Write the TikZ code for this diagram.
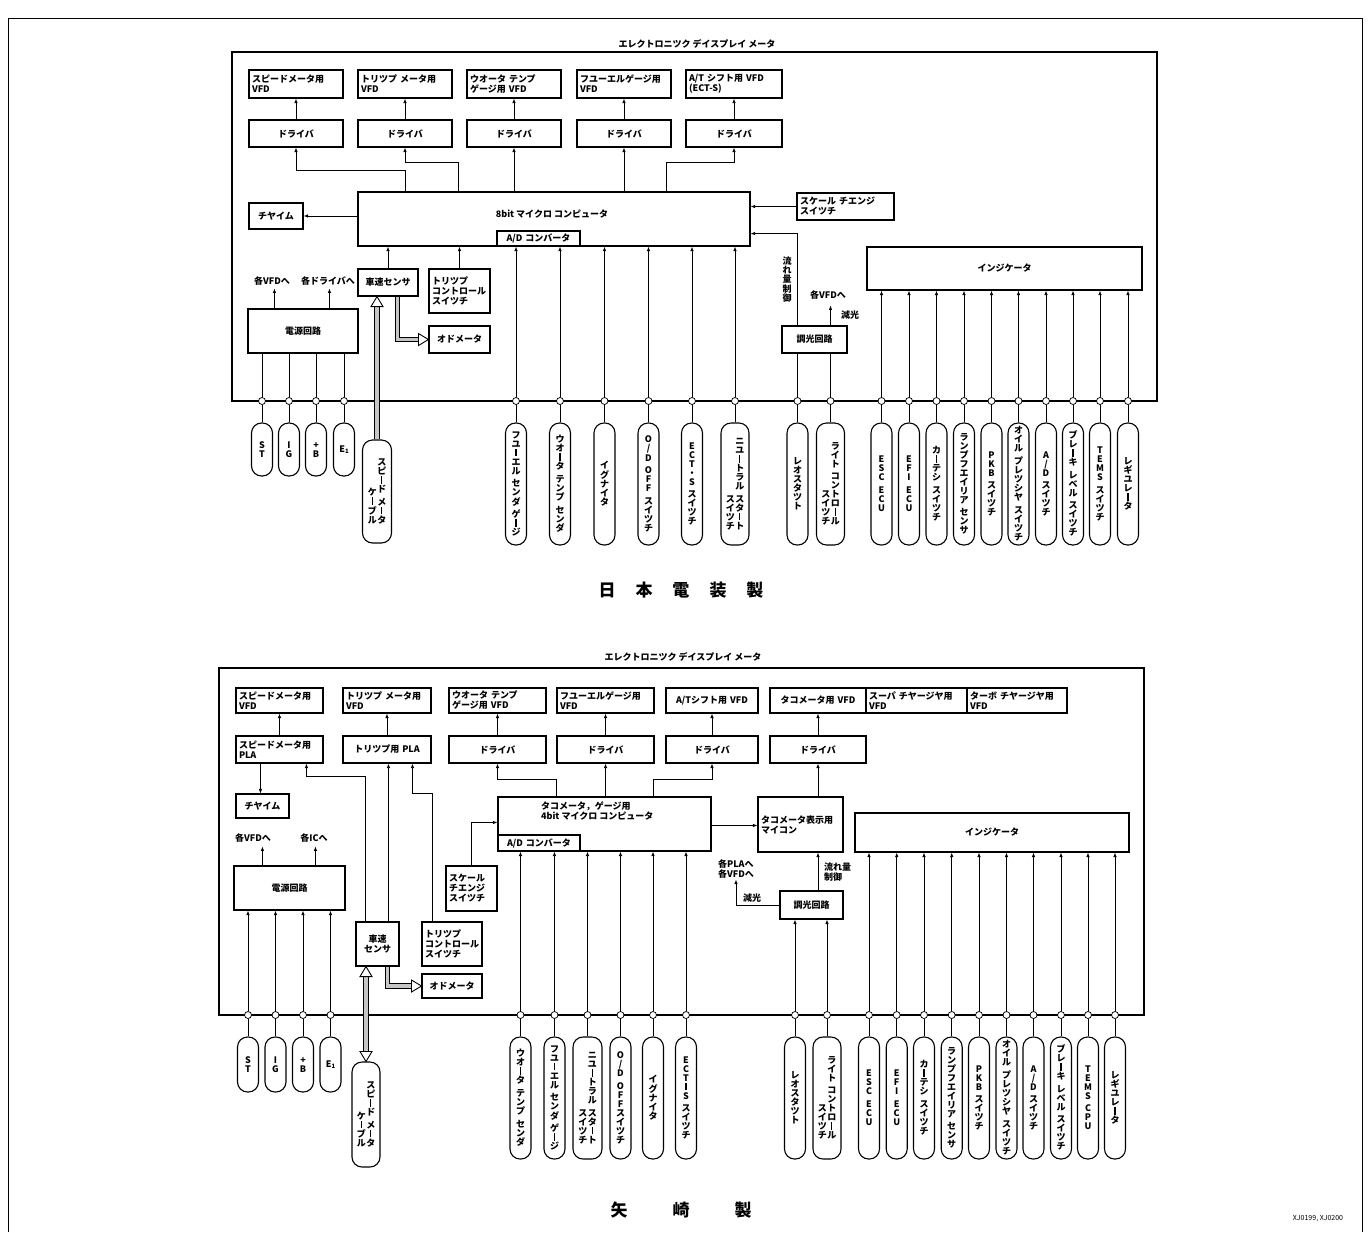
\documentclass[tikz,border=0pt]{standalone}
\usepackage{fontspec}
\setmainfont{Noto Sans CJK JP}
\usetikzlibrary{arrows.meta,calc}
\newcommand\fs{\fontsize{9}{10}\selectfont\bfseries}
\makeatletter
\def\vt@bar{ー}
\def\vt@gap{*}
\newcommand\vstack[1]{\vbox{\offinterlineskip\@tfor\vt@c:=#1\do{\vt@one}}}
\def\vt@one{%
  \ifx\vt@c\vt@gap\vskip3.5pt\relax
  \else\ifx\vt@c\vt@bar
    \hbox to 9.5pt{\hss\vrule width 1.2pt height 7.4pt depth .1pt\hss}\vskip1.5pt\relax
  \else
    \hbox to 9.5pt{\hss\vrule width 0pt height 7.5pt depth 1.5pt\vt@c\hss}%
  \fi\fi}
\makeatother
\newcommand\bx[7][]{%
  \pgfmathsetmacro\bxw{#5-#3}\pgfmathsetmacro\bxh{#6-#4}\pgfmathsetmacro\bxt{#5-#3-6}%
  \node[box,minimum width=\bxw pt,minimum height=\bxh pt,text width=\bxt pt,#1] (#2) at ({(#3+#5)/2},{(#4+#6)/2}) {#7};}
\newcommand\pl[5]{\node[pill,minimum width=#3pt,minimum height=#4pt] (#1) at (#2) {#5};}
\newcommand\hh[2]{\draw[hhead,shift={(#1)},rotate=#2] (0,0) -- (-10,6) -- (-10,-6) -- cycle;}
\newcommand\esub{E{\fontsize{6}{6}\selectfont\raisebox{-1.5pt}{1}}}
\begin{document}
\begin{tikzpicture}[x=1pt,y=-1pt,
  box/.style={draw,line width=1.1pt,inner sep=3pt,font=\fs,align=left},
  pill/.style={draw,line width=1.1pt,rounded corners=10pt,inner sep=1pt,font=\fs},
  wire/.style={line width=.75pt},
  arr/.style={wire,-{Latex[length=4.5pt,width=3.5pt]}},
  frm/.style={line width=1.3pt},
  dot/.style={circle,draw,fill=white,line width=.75pt,inner sep=0pt,minimum size=7pt},
  lab/.style={font=\fs,inner sep=0pt,align=left},
  hshaft/.style={line width=.9pt,double=gray!45,double distance=3.5pt,line join=miter},
  hhead/.style={draw,fill=white,line width=.9pt,line join=miter}]
\useasboundingbox (0,0) rectangle (1370,1232);
\draw[line width=.6pt] (8,1232) -- (8,18) -- (1362,18) -- (1362,1232);

%================ TOP =================
\node[font=\fs] (ttl) at (697,44) {エレクトロニツク\ デイスプレイ\ メータ};
\draw[frm] (232,401) -- (232,52) -- (1157,52) -- (1157,401) -- cycle;
\bx{tv1}{249}{70}{343}{98}{スピードメータ用\\VFD}
\bx{tv2}{358}{70}{452}{98}{トリツプ メータ用\\VFD}
\bx{tv3}{467}{70}{561}{98}{ウオータ テンプ\\ゲージ用 VFD}
\bx{tv4}{577}{70}{671}{98}{フユーエルゲージ用\\VFD}
\bx{tv5}{686}{70}{782}{98}{A/T シフト用 VFD\\(ECT-S)}
\foreach \i/\a/\b in {1/249/343,2/358/452,3/467/561,4/577/671,5/686/782}
  {\bx[align=center]{td\i}{\a}{120}{\b}{147}{ドライバ}}
\bx{tm}{358}{192}{750}{246}{}
\node[lab] (tml) at (552,214) {8bit マイクロ コンピュータ};
\bx[align=center,inner sep=1pt]{tad}{497}{231}{580}{246}{A/D コンバータ}
\bx[align=center]{tc}{249}{203}{303}{229}{チヤイム}
\bx{tsc}{797}{193}{894}{220}{スケール チエンジ\\スイツチ}
\bx[align=center]{tsp}{358}{269}{418}{296}{車速センサ}
\bx{ttr}{429}{269}{490}{313}{トリツプ\\コントロール\\スイツチ}
\bx[align=center]{tpw}{248}{309}{358}{353}{電源回路}
\bx[align=center]{tod}{429}{326}{490}{353}{オドメータ}
\bx[align=center]{tdim}{782}{326}{847}{353}{調光回路}
\bx[align=center]{ti}{867}{247}{1142}{290}{インジケータ}
\node[lab] (tl1) at (272,281) {各VFDへ};
\node[lab] (tl2) at (328,281) {各ドライバへ};
\node[lab] (tl3) at (828,295) {各VFDへ};
\node[lab] (tl4) at (850,315) {減光};
\node[lab] (tl5) at (787,280) {\vstack{流れ量制御}};
\foreach \x [count=\i] in {262,289,316,344,516,560,604.5,648.5,692,735,797.5,830.5,881.5,909,936.5,964,991.5,1018.5,1046,1073,1100,1128}
  \node[dot] (t\i) at (\x,401) {};
% pills
\pl{tp1}{$(t1)+(0,48.5)$}{21}{53}{\vstack{ST}}
\pl{tp2}{$(t2)+(0,48.5)$}{21}{53}{\vstack{IG}}
\pl{tp3}{$(t3)+(0,48.5)$}{21}{53}{\vstack{+B}}
\pl{tp4}{$(t4)+(0,48.5)$}{21}{53}{\esub}
\pl{tp5}{$(t5)+(0,83)$}{21}{122}{\vstack{フユーエル*センダ*ゲージ}}
\pl{tp6}{$(t6)+(0,83)$}{21}{122}{\vstack{ウオータ*テンプ*センダ}}
\pl{tp7}{$(t7)+(0,83)$}{21}{122}{\vstack{イグナイタ}}
\pl{tp8}{$(t8)+(0,83)$}{21}{122}{\vstack{O/D*OFF*スイツチ}}
\pl{tp9}{$(t9)+(0,83)$}{21}{122}{\vstack{ECT・S*スイツチ}}
\pl{tp10}{$(t10)+(0,83)$}{28}{122}{\hbox{\vstack{スイツチ}\vstack{ニユートラル*スタート}}}
\pl{tp11}{$(t11)+(0,83)$}{21}{122}{\vstack{レオスタツト}}
\pl{tp12}{$(t12)+(0,83)$}{28}{122}{\hbox{\vstack{スイツチ}\vstack{ライト*コントロール}}}
\pl{tp13}{$(t13)+(0,83)$}{21}{122}{\vstack{ESC*ECU}}
\pl{tp14}{$(t14)+(0,83)$}{21}{122}{\vstack{EFI*ECU}}
\pl{tp15}{$(t15)+(0,83)$}{21}{122}{\vstack{カーテシ*スイツチ}}
\pl{tp16}{$(t16)+(0,83)$}{21}{122}{\vstack{ランプフエイリア*センサ}}
\pl{tp17}{$(t17)+(0,83)$}{21}{122}{\vstack{PKB*スイツチ}}
\pl{tp18}{$(t18)+(0,83)$}{21}{122}{\vstack{オイル*プレツシヤ*スイツチ}}
\pl{tp19}{$(t19)+(0,83)$}{21}{122}{\vstack{A/D*スイツチ}}
\pl{tp20}{$(t20)+(0,83)$}{21}{122}{\vstack{ブレーキ*レベル*スイツチ}}
\pl{tp21}{$(t21)+(0,83)$}{21}{122}{\vstack{TEMS*スイツチ}}
\pl{tp22}{$(t22)+(0,83)$}{21}{122}{\vstack{レギユレータ}}
\pl{tcab}{377,491.5}{29}{103}{\hbox{\vstack{ケーブル}\vstack{スピード*メータ}}}
% connectors
\foreach \i in {1,...,22} \draw[wire] (tp\i.north) -- (t\i.south);
\foreach \i in {1,...,5} \draw[arr] (td\i.north) -- (tv\i.south);
\draw[arr] (td2.south |- tm.north) -- ++(0,-21) -| (td1.south);
\draw[arr] ($(tm.north west)+(101,0)$) -- ++(0,-29) -| (td2.south);
\draw[arr] (td3.south |- tm.north) -- (td3.south);
\draw[arr] (td4.south |- tm.north) -- (td4.south);
\draw[arr] ($(tm.north west)+(309,0)$) -- ++(0,-29) -| (td5.south);
\draw[arr] (tc.east -| tm.west) -- (tc.east);
\draw[arr] (tsc.west) -- (tsc.west -| tm.east);
\draw[arr] (t11 |- tdim.north) |- ($(tm.south east)+(0,-13)$);
\draw[arr] (t12 |- tdim.north) -- ++(0,-20);
\foreach \i in {11,12} \draw[wire] (t\i.north) -- (t\i |- tdim.south);
\draw[arr] (tsp.north) -- (tsp.north |- tm.south);
\draw[arr] (ttr.north) -- (ttr.north |- tm.south);
\foreach \i in {5,...,10} \draw[arr] (t\i.north) -- (t\i |- tm.south);
\foreach \i in {13,...,22} \draw[arr] (t\i.north) -- (t\i |- ti.south);
\foreach \i in {1,...,4} \draw[wire] (t\i.north) -- (t\i |- tpw.south);
\draw[arr] ($(tpw.north west)+(27,0)$) -- ++(0,-20);
\draw[arr] ($(tpw.north west)+(82,0)$) -- ++(0,-20);
\coordinate (th1) at (tsp.south -| tcab.north);
\draw[hshaft] (tcab.north) -- ($(th1)+(0,10)$);
\hh{th1}{90}
\coordinate (th2) at ($(tsp.south)+(9.5,0)$);
\draw[hshaft] (th2) |- ($(tod.west)+(-10,0)$);
\hh{tod.west}{0}
\node[font=\fontsize{17}{20}\selectfont\bfseries] (tmk) at (681,590)
  {日\hspace{20pt}本\hspace{20pt}電\hspace{20pt}装\hspace{20pt}製};

%================ BOTTOM =================
\node[font=\fs] (btl) at (683,657) {エレクトロニツク\ デイスプレイ\ メータ};
\draw[frm] (219,1015) -- (219,668) -- (1144,668) -- (1144,1015) -- cycle;
\bx{bv1}{236}{688}{323}{713}{スピードメータ用\\VFD}
\bx{bv2}{343}{688}{431}{713}{トリツプ メータ用\\VFD}
\bx{bv3}{449}{688}{546}{713}{ウオータ テンプ\\ゲージ用 VFD}
\bx{bv4}{557}{688}{654}{713}{フユーエルゲージ用\\VFD}
\bx[align=center]{bv5}{666}{688}{758}{713}{A/Tシフト用 VFD}
\bx[align=center]{bv6}{770}{688}{866}{713}{タコメータ用 VFD}
\bx{bv7}{866}{688}{967}{713}{スーパ チヤージヤ用\\VFD}
\bx{bv8}{967}{688}{1067}{713}{ターボ チヤージヤ用\\VFD}
\bx{br1}{236}{736}{323}{763}{スピードメータ用\\PLA}
\bx[align=center]{br2}{343}{736}{431}{763}{トリツプ用 PLA}
\bx[align=center]{bd3}{449}{736}{546}{763}{ドライバ}
\bx[align=center]{bd4}{557}{736}{654}{763}{ドライバ}
\bx[align=center]{bd5}{666}{736}{758}{763}{ドライバ}
\bx[align=center]{bd6}{770}{736}{866}{763}{ドライバ}
\bx[align=center]{bc}{236}{794}{289}{818}{チヤイム}
\bx[align=center]{bpw}{234}{866}{345}{910}{電源回路}
\bx[align=center]{bsp}{356}{922}{399}{966}{車速\\センサ}
\bx{btr}{422}{922}{482}{966}{トリツプ\\コントロール\\スイツチ}
\bx{bsc}{446}{866}{497}{911}{スケール\\チエンジ\\スイツチ}
\bx[align=center]{bod}{422}{974}{482}{998}{オドメータ}
\bx{bm}{498}{797}{711}{851}{}
\node[lab,anchor=north west] (bml) at (541,801) {タコメータ，ゲージ用\\4bit マイクロ コンピュータ};
\bx[align=center,inner sep=1pt]{bad}{498}{835}{580}{851}{A/D コンバータ}
\bx{btm}{758}{797}{843}{852}{タコメータ表示用\\マイコン}
\bx[align=center]{bi}{855}{813}{1129}{852}{インジケータ}
\bx[align=center]{bdim}{780}{891}{843}{919}{調光回路}
\node[lab] (bl1) at (253,838) {各VFDへ};
\node[lab] (bl2) at (314,838) {各ICへ};
\node[lab] (bl3) at (736,869) {各PLAへ\\各VFDへ};
\node[lab] (bl4) at (752,898) {減光};
\node[lab,anchor=west] (bl5) at (824,872) {流れ量\\制御};
\foreach \x [count=\i] in {248,275.5,303,330.5,520.5,554.5,587.5,620.5,653,686,795,827,869,896.7,924,951.7,979,1006.5,1033.5,1061,1088,1115}
  \node[dot] (b\i) at (\x,1015) {};
\pl{bp1}{$(b1)+(0,49.5)$}{21}{55}{\vstack{ST}}
\pl{bp2}{$(b2)+(0,49.5)$}{21}{55}{\vstack{IG}}
\pl{bp3}{$(b3)+(0,49.5)$}{21}{55}{\vstack{+B}}
\pl{bp4}{$(b4)+(0,49.5)$}{21}{55}{\esub}
\pl{bp5}{$(b5)+(0,83)$}{21}{122}{\vstack{ウオータ*テンプ*センダ}}
\pl{bp6}{$(b6)+(0,83)$}{21}{122}{\vstack{フユーエル*センダ*ゲージ}}
\pl{bp7}{$(b7)+(0,83)$}{29}{122}{\hbox{\vstack{スイツチ}\vstack{ニユートラル*スタート}}}
\pl{bp8}{$(b8)+(0,83)$}{21}{122}{\vstack{O/D*OFFスイツチ}}
\pl{bp9}{$(b9)+(0,83)$}{21}{122}{\vstack{イグナイタ}}
\pl{bp10}{$(b10)+(0,83)$}{21}{122}{\vstack{ECTーS*スイツチ}}
\pl{bp11}{$(b11)+(0,83)$}{21}{122}{\vstack{レオスタツト}}
\pl{bp12}{$(b12)+(0,83)$}{28}{122}{\hbox{\vstack{スイツチ}\vstack{ライト*コントロール}}}
\pl{bp13}{$(b13)+(0,83)$}{21}{122}{\vstack{ESC*ECU}}
\pl{bp14}{$(b14)+(0,83)$}{21}{122}{\vstack{EFI*ECU}}
\pl{bp15}{$(b15)+(0,83)$}{21}{122}{\vstack{カーテシ*スイツチ}}
\pl{bp16}{$(b16)+(0,83)$}{21}{122}{\vstack{ランプフエイリア*センサ}}
\pl{bp17}{$(b17)+(0,83)$}{21}{122}{\vstack{PKB*スイツチ}}
\pl{bp18}{$(b18)+(0,83)$}{21}{122}{\vstack{オイル*プレツシヤ*スイツチ}}
\pl{bp19}{$(b19)+(0,83)$}{21}{122}{\vstack{A/D*スイツチ}}
\pl{bp20}{$(b20)+(0,83)$}{21}{122}{\vstack{ブレーキ*レベル*スイツチ}}
\pl{bp21}{$(b21)+(0,83)$}{21}{122}{\vstack{TEMS*CPU}}
\pl{bp22}{$(b22)+(0,83)$}{21}{122}{\vstack{レギユレータ}}
\pl{bcab}{366,1114.5}{28}{105}{\hbox{\vstack{ケーブル}\vstack{スピード*メータ}}}
\foreach \i in {1,...,22} \draw[wire] (bp\i.north) -- (b\i.south);
\draw[arr] (br1.north -| bv1.south) -- (bv1.south);
\draw[arr] (br2.north) -- (bv2.south);
\foreach \i in {3,...,6} \draw[arr] (bd\i.north) -- (bv\i.south);
\coordinate (q1) at ($(br1.south west)+(25,0)$);
\draw[arr] (q1) -- (q1 |- bc.north);
\draw[arr] ($(bsp.north west)+(10,0)$) -- ++(0,-145) -| ($(br1.south west)+(71,0)$);
\coordinate (q2) at ($(bsp.north west)+(33,0)$);
\draw[arr] (q2) -- (q2 |- br2.south);
\draw[arr] ($(btr.north west)+(11,0)$) -- ++(0,-128) -| ($(br2.south west)+(70,0)$);
\draw[arr] (bsc.north) |- ($(bm.north west)+(0,26)$);
\draw[arr] ($(bm.north west)+(59,0)$) -- ++(0,-17) -| (bd3.south);
\draw[arr] (bd4.south |- bm.north) -- (bd4.south);
\draw[arr] ($(bm.north west)+(156,0)$) -- ++(0,-17) -| (bd5.south);
\coordinate (q3) at ($(bm.north east)+(0,29)$);
\draw[arr] (q3) -- (q3 -| btm.west);
\draw[arr] (bd6.south |- btm.north) -- (bd6.south);
\draw[arr] (bd6.south |- bdim.north) -- (bd6.south |- btm.south);
\draw[arr,shorten >=1pt] (bdim.west) -| (bl3.south);
\foreach \i in {1,...,4} \draw[arr] (b\i.north) -- (b\i |- bpw.south);
\foreach \i in {5,...,10} \draw[arr] (b\i.north) -- (b\i |- bm.south);
\foreach \i in {11,12} \draw[arr] (b\i.north) -- (b\i |- bdim.south);
\foreach \i in {13,...,22} \draw[arr] (b\i.north) -- (b\i |- bi.south);
\draw[arr] ($(bpw.north west)+(29,0)$) -- ++(0,-19);
\draw[arr] ($(bpw.north west)+(82,0)$) -- ++(0,-19);
\coordinate (bh1) at (bsp.south -| bcab.north);
\draw[hshaft] ($(bh1)+(0,10)$) -- ($(bcab.north)+(0,-10)$);
\hh{bh1}{90}
\hh{bcab.north}{-90}
\coordinate (bh2) at ($(bsp.south)+(10,0)$);
\draw[hshaft] (bh2) |- ($(bod.west)+(-10,0)$);
\hh{bod.west}{0}
\node[font=\fontsize{17}{20}\selectfont\bfseries] (bmk) at (681,1210)
  {矢\hspace{45pt}崎\hspace{45pt}製};
\node[font=\fontsize{7}{8}\selectfont] (xj) at (1318,1219) {XJ0199,\ XJ0200};
\end{tikzpicture}
\end{document}
